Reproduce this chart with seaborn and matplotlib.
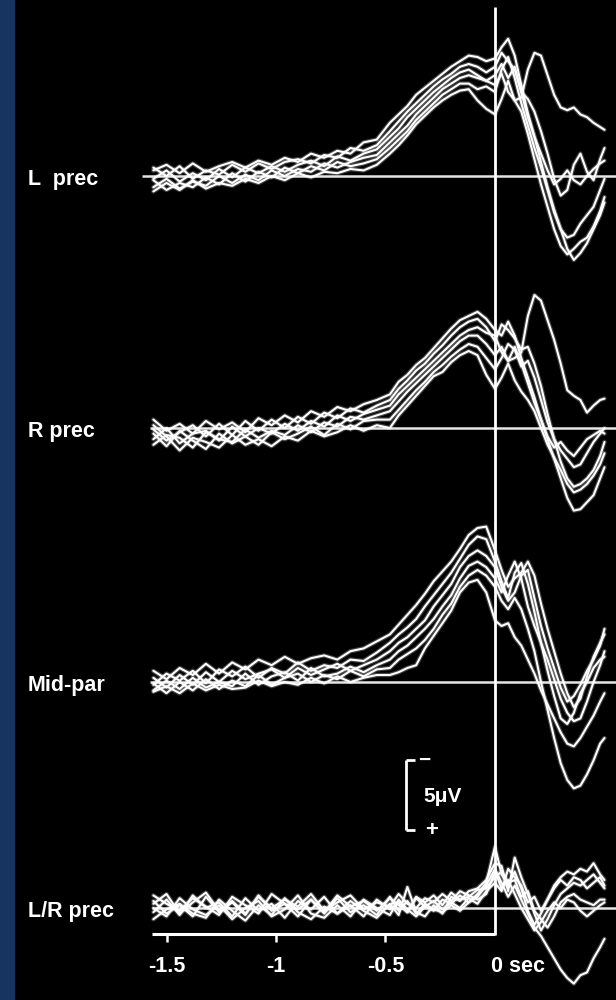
import numpy as np
import pandas as pd
import matplotlib
matplotlib.use('Agg')
import matplotlib.pyplot as plt
import seaborn as sns

# time axis (s, 0 = movement onset)
T = [-1.56, -1.50, -1.44, -1.38, -1.32, -1.26, -1.20, -1.14, -1.08, -1.02, -0.96, -0.90,
     -0.84, -0.78, -0.72, -0.66, -0.60, -0.54, -0.48, -0.44, -0.40, -0.36, -0.32, -0.28,
     -0.24, -0.20, -0.16, -0.12, -0.08, -0.04, 0.00, 0.03, 0.06, 0.09, 0.12, 0.15,
     0.18, 0.21, 0.24, 0.27, 0.30, 0.33, 0.36, 0.39, 0.42, 0.45, 0.48, 0.50]

# amplitudes in uV, negative = up (EEG convention)
L1 = [-0.4, -0.8, -0.2, -0.9, -0.3, -0.7, -1.0, -0.6, -1.1, -0.8, -1.3, -1.0, -1.6, -1.3, -1.8, -1.6, -2.4, -2.6,
      -3.8, -4.4, -5.0, -5.8, -6.3, -6.8, -7.3, -7.8, -8.2, -8.6, -8.5, -8.2,
      -8.4, -9.2, -9.8, -8.6, -6.5, -4.5, -2.8, -1.0, 0.8, 2.4, 3.8, 5.2, 6.0, 5.5, 4.8, 3.8, 2.8, 1.9]
L2 = [0.2, -0.4, 0.4, -0.2, 0.3, -0.5, 0.1, -0.6, -0.2, -0.7, -0.3, -0.8, -1.1, -0.7, -1.4, -1.1, -1.6, -1.9,
      -2.8, -3.4, -4.2, -4.8, -5.4, -6.0, -6.5, -7.0, -7.4, -7.6, -7.2, -6.8,
      -6.5, -7.3, -6.0, -5.4, -5.6, -7.6, -8.8, -8.6, -7.2, -5.8, -4.9, -4.7, -4.9, -4.4, -4.2, -3.8, -3.5, -3.3]
L3 = [1.1, 0.5, 1.0, 0.3, 0.9, 0.5, 0.7, 0.2, 0.5, 0.0, 0.3, -0.2, 0.1, -0.3, -0.2, -0.5, -0.4, -0.8,
      -1.6, -2.2, -2.9, -3.7, -4.3, -4.9, -5.4, -5.8, -6.1, -6.2, -5.4, -4.8,
      -4.4, -5.5, -6.8, -5.4, -4.6, -3.0, -1.2, 0.6, 2.2, 3.8, 5.0, 5.6, 5.2, 4.7, 4.4, 3.6, 2.5, 1.5]
L4 = [-0.6, 0.0, -0.7, 0.2, -0.4, -0.1, -0.8, -0.3, -0.9, -0.5, -1.0, -1.2, -0.9, -1.5, -1.3, -2.0, -1.8, -2.2,
      -3.2, -3.9, -4.6, -5.2, -5.8, -6.4, -6.9, -7.3, -7.8, -8.0, -7.8, -7.4,
      -7.8, -8.8, -8.2, -7.6, -6.0, -5.5, -4.6, -3.2, -1.6, 0.2, 1.4, 1.0, -0.8, -1.6, -0.3, 0.3, -1.2, -2.0]
L5 = [0.8, 0.2, 0.9, 0.4, 0.7, 0.0, 0.5, -0.1, 0.3, -0.4, 0.0, -0.5, -0.3, -0.9, -0.6, -1.0, -1.3, -1.5,
      -2.4, -3.0, -3.6, -4.4, -5.0, -5.6, -6.2, -6.6, -7.0, -7.2, -7.0, -6.8,
      -7.2, -8.0, -7.0, -7.8, -6.0, -4.2, -2.8, -1.6, -0.4, 0.6, 0.2, -0.4, 0.3, 0.6, 0.0, -0.5, -0.9, -1.1]
L6 = [0.3, 1.0, 0.5, 0.8, 0.1, 0.6, -0.2, 0.4, -0.3, 0.1, -0.6, -0.2, -0.7, -0.4, -1.0, -0.7, -0.9, -1.2,
      -2.0, -2.6, -3.2, -4.0, -4.6, -5.2, -5.8, -6.2, -6.6, -6.6, -6.2, -6.4,
      -6.0, -7.6, -8.5, -7.0, -5.2, -3.6, -2.0, -0.6, 1.0, 2.6, 3.8, 4.4, 4.2, 3.4, 2.8, 2.2, 1.0, 0.2]

R1 = [-0.6, 0.2, -0.3, 0.4, -0.5, 0.1, -0.4, 0.3, -0.7, -0.2, -0.9, -0.4, -1.2, -0.8, -1.5, -1.2, -1.7, -2.0,
      -2.4, -3.3, -3.8, -4.5, -5.0, -5.7, -6.4, -7.1, -7.7, -8.0, -8.3, -7.8,
      -7.0, -6.6, -7.6, -6.6, -5.0, -3.6, -2.2, -0.6, 0.8, 2.2, 3.6, 5.0, 5.9, 5.8, 5.3, 4.8, 3.6, 2.8]
R2 = [1.2, 0.5, 0.7, 1.4, 0.3, 0.8, 1.0, 0.1, 0.7, 0.2, 0.5, -0.2, 0.3, -0.4, -0.1, -0.8, -0.6, -0.9,
      -1.2, -1.9, -2.6, -3.2, -3.8, -4.4, -5.0, -5.6, -6.2, -6.6, -6.6, -6.0,
      -5.2, -5.8, -4.8, -5.0, -5.4, -8.0, -9.5, -9.1, -7.7, -6.3, -4.6, -2.7, -2.3, -2.0, -1.1, -1.6, -2.0, -2.1]
R3 = [0.1, 0.9, 0.3, -0.2, 0.6, -0.3, 0.5, -0.5, 0.2, -0.6, 0.0, -0.8, -0.3, -1.1, -0.7, -1.4, -1.1, -1.6,
      -2.0, -2.8, -3.4, -4.1, -4.6, -5.3, -5.9, -6.6, -7.2, -7.6, -7.8, -7.2,
      -6.2, -7.4, -7.0, -6.4, -5.6, -5.8, -4.6, -3.0, -1.0, 0.8, 2.4, 3.6, 4.2, 4.0, 3.6, 3.0, 2.0, 1.0]
R4 = [0.4, 1.3, 0.2, 0.9, 1.5, 0.4, 1.1, 0.6, 1.2, 0.3, 0.8, 0.4, -0.1, 0.5, -0.3, 0.1, -0.5, -0.6,
      -0.6, -1.3, -2.0, -2.7, -3.3, -4.0, -4.5, -5.1, -5.6, -6.0, -5.8, -5.0,
      -4.2, -5.0, -6.0, -5.6, -4.4, -4.8, -3.6, -2.0, -0.4, 0.8, 1.6, 2.2, 2.8, 2.6, 1.8, 1.0, 0.4, 0.0]
R5 = [-0.2, 0.6, 1.6, 0.7, 1.0, 1.4, 0.5, 1.2, 0.8, 1.3, 0.6, 0.9, 0.2, 0.6, 0.3, -0.2, 0.2, -0.2,
      0.0, -0.9, -1.6, -2.3, -3.0, -3.7, -4.0, -4.7, -5.2, -5.5, -5.2, -3.8,
      -2.8, -3.6, -4.6, -3.4, -2.6, -2.0, -1.2, 0.0, 1.2, 2.1, 3.0, 4.0, 4.6, 4.4, 4.0, 3.4, 2.6, 1.8]
R6 = [0.8, 0.0, 1.1, 0.4, 0.2, 0.9, -0.1, 0.6, 0.0, 0.4, -0.3, 0.2, -0.5, -0.1, -0.9, -0.5, -1.0, -1.3,
      -1.6, -2.4, -3.0, -3.6, -4.2, -4.8, -5.4, -6.0, -6.6, -7.0, -7.2, -6.8,
      -6.6, -5.4, -4.8, -5.8, -4.6, -3.2, -1.8, -0.6, 0.6, 1.4, 1.0, 1.6, 2.0, 1.4, 0.8, 0.5, 0.2, 0.4]

M1 = [-0.8, -0.2, -1.0, -0.5, -1.3, -0.6, -1.4, -0.9, -1.6, -1.2, -1.8, -1.3, -1.7, -1.9, -1.6, -2.2, -2.4, -2.9,
      -3.4, -4.1, -4.8, -5.5, -6.3, -7.2, -7.9, -8.6, -9.5, -10.5, -11.0, -11.1,
      -9.4, -8.0, -6.8, -7.4, -7.8, -8.6, -7.6, -5.6, -3.8, -2.2, -0.6, 0.8, 1.8, 1.2, -0.4, -1.8, -2.8, -3.4]
M2 = [0.2, -0.6, -0.1, -0.8, 0.1, -0.9, -0.4, -1.1, -0.3, -1.0, -0.6, -1.4, -0.8, -1.2, -1.0, -1.6, -1.5, -2.1,
      -2.8, -3.4, -3.9, -4.5, -5.4, -6.2, -7.0, -7.8, -8.8, -9.8, -10.4, -10.2,
      -8.6, -7.2, -6.0, -7.8, -8.5, -7.0, -5.0, -2.8, -0.8, 1.0, 2.6, 3.0, 2.2, 0.8, 0.0, -1.0, -1.6, -1.8]
M3 = [0.7, 0.3, 0.8, 0.1, 0.6, 0.2, 0.5, 0.4, -0.1, 0.3, 0.0, 0.2, -0.3, 0.1, -0.4, 0.0, -0.3, -0.5,
      -0.5, -0.7, -1.0, -1.2, -2.4, -3.3, -4.2, -5.1, -6.4, -7.1, -7.3, -6.4,
      -4.4, -4.0, -4.2, -3.2, -2.6, -1.6, -0.6, 0.6, 1.6, 2.6, 3.6, 4.4, 4.6, 4.0, 3.2, 2.4, 1.4, 0.8]
M4 = [0.1, 0.8, 0.0, 0.6, -0.2, 0.5, -0.1, 0.3, -0.5, 0.2, -0.3, -0.6, 0.0, -0.5, -0.2, -0.8, -0.4, -0.9,
      -1.0, -1.6, -2.0, -2.4, -3.0, -3.8, -4.8, -5.6, -6.8, -7.6, -8.0, -7.6,
      -6.8, -5.8, -5.2, -6.0, -5.2, -3.8, -2.2, 0.0, 2.0, 4.0, 5.8, 7.0, 7.6, 7.4, 6.6, 5.6, 4.4, 4.0]
M5 = [0.6, -0.1, 0.5, -0.3, 0.4, 0.0, 0.3, -0.6, 0.2, -0.4, -0.7, -0.1, -1.0, -0.4, -0.6, -1.1, -0.7, -1.2,
      -1.6, -2.2, -2.6, -3.2, -3.8, -4.5, -5.4, -6.2, -7.4, -8.3, -8.6, -8.2,
      -7.4, -6.4, -7.6, -8.6, -7.4, -5.4, -4.0, -2.8, -1.6, -0.2, 1.2, 2.2, 2.8, 2.6, 1.4, 0.0, -1.2, -2.2]
M6 = [-0.3, 0.4, -0.5, 0.2, -0.7, 0.0, -0.8, -0.2, -0.6, -0.9, -0.3, -1.0, -0.5, -0.9, -1.3, -0.8, -1.2, -1.6,
      -2.2, -2.8, -3.2, -3.8, -4.4, -5.4, -6.2, -7.0, -8.2, -9.0, -9.4, -9.0,
      -8.2, -6.8, -5.8, -6.4, -7.6, -8.0, -6.0, -4.0, -2.4, -1.0, 0.4, 1.4, 1.0, 0.2, -0.8, -1.6, -2.6, -3.8]

LR1 = [0.3, -0.6, 0.5, -0.9, 0.0, -0.4, 0.6, -0.7, 0.2, -0.3, 0.7, -0.5, 0.1, -0.8, 0.4, -0.2, 0.6, -0.6,
       0.1, -0.4, 0.3, -0.7, -0.1, 0.2, -0.6, -0.3, -0.9, -0.4, -1.0, -1.8,
       -4.4, -2.4, -1.6, -2.6, -1.4, 0.2, 1.2, 0.4, -0.6, -1.6, -2.2, -2.6, -2.4, -2.8, -2.6, -3.2, -2.4, -2.0]
LR2 = [-0.5, 0.4, -0.2, 0.6, -0.8, 0.3, -0.4, 0.5, -0.9, 0.2, -0.3, 0.6, -0.6, 0.4, -0.7, 0.3, -0.2, 0.5,
       -0.8, 0.2, -0.5, 0.4, -0.3, 0.1, 0.3, -0.2, 0.2, -0.4, -0.8, -1.6,
       -2.8, -1.8, -0.8, -1.6, -0.6, 0.4, 1.4, 2.0, 2.8, 3.6, 4.4, 5.0, 5.4, 4.8, 4.6, 3.6, 2.8, 2.2]
LR3 = [0.8, 0.1, -0.3, 0.4, 0.7, -0.6, 0.2, 0.9, -0.2, 0.5, -0.7, 0.3, 0.8, -0.1, 0.4, -0.5, 0.2, 0.7,
       -0.3, 0.5, -1.5, 0.3, 0.6, -0.2, 0.4, -0.8, -0.5, -1.2, -1.4, -2.0,
       -3.2, -3.0, -1.2, -3.6, -2.2, -1.0, 0.4, 1.6, 0.8, -0.2, -1.0, -1.4, -1.8, -1.6, -2.0, -2.4, -1.8, -1.4]
LR4 = [-0.9, -0.3, 0.2, -0.7, -0.1, 0.5, -0.8, -0.2, 0.4, -1.0, -0.3, 0.1, -0.6, 0.3, -0.9, -0.1, -0.5, 0.2,
       -0.7, -0.2, 0.3, -0.8, -0.4, -0.9, -0.2, -1.1, -0.6, -0.8, -1.3, -1.4,
       -2.2, -2.6, -1.8, -2.0, -0.8, -1.2, 0.2, 0.8, 1.4, 0.6, -0.4, -0.8, -1.0, -0.6, -0.4, -0.2, -0.6, -0.6]
LR5 = [0.0, 0.6, -0.7, 0.1, 0.5, -0.2, 0.8, 0.0, -0.5, 0.6, 0.1, -0.9, 0.4, 0.7, -0.2, 0.6, -0.6, 0.0,
       0.5, -0.6, 0.1, 0.6, -0.1, -0.5, 0.1, -0.4, 0.0, -0.7, -0.3, -1.2,
       -1.8, -1.2, -2.8, -2.2, -1.6, -0.4, -0.8, 0.2, -0.6, -1.4, -2.0, -1.6, -2.2, -2.0, -1.4, -1.8, -2.2, -1.6]
LR6 = [-0.3, -1.0, 0.4, -0.4, -1.1, 0.2, -0.5, 0.4, -0.8, 0.0, -0.6, -0.1, -1.0, 0.2, -0.4, -0.9, 0.1, -0.4,
       -0.1, -1.0, -0.3, 0.0, -0.7, -0.4, -1.0, -0.5, -1.2, -0.9, -0.6, -1.0,
       -2.6, -1.4, -2.0, -1.0, 0.0, 0.8, 1.6, 1.0, 0.2, -0.4, 0.0, -0.6, -0.4, 0.2, 0.6, 0.2, -0.2, -0.4]

channels = ['L  prec', 'R prec', 'Mid-par', 'L/R prec']
traces = {
    'L  prec': [L1, L2, L3, L4, L5, L6],
    'R prec': [R1, R2, R3, R4, R5, R6],
    'Mid-par': [M1, M2, M3, M4, M5, M6],
    'L/R prec': [LR1, LR2, LR3, LR4, LR5, LR6],
}
xticks = [-1.5, -1, -0.5]
xticklabels = ['-1.5', '-1', '-0.5']

# layout: picture is 616 x 1000 px, 219 px per second, 14 px per uV
PX_S, T0, PX_UV = 219.0, 495.0, 14.0
base_px = {'L  prec': 176, 'R prec': 428, 'Mid-par': 682, 'L/R prec': 908}
line_start_px = {'L  prec': 142, 'R prec': 150, 'Mid-par': 150, 'L/R prec': 152}


def sx(px):
    return (px - T0) / PX_S


def sy(px):
    return px / PX_UV


rows = []
for ch in channels:
    for k, tr in enumerate(traces[ch]):
        assert len(tr) == len(T)
        for t, v in zip(T, tr):
            rows.append({'channel': ch, 'trace': k, 'time': t, 'uv': v,
                         'y': sy(base_px[ch]) + v})
df = pd.DataFrame(rows)

sns.set_style('white')
plt.rcParams['font.family'] = ['Liberation Sans', 'DejaVu Sans']

fig = plt.figure(figsize=(6.16, 10), dpi=100, facecolor='black')
ax = fig.add_axes([0, 0, 1, 1])
ax.set_facecolor('black')

# blue strip on the left edge
ax.axvspan(sx(0), sx(14), color='#17335f', zorder=0)

for ch in channels:
    b = sy(base_px[ch])
    ax.hlines(b, sx(line_start_px[ch]), sx(616), color='white', lw=1.8, alpha=0.9)
    sub = df[df['channel'] == ch]
    # soft halo, then the trace itself (scanned-print look)
    sns.lineplot(data=sub, x='time', y='y', units='trace', estimator=None,
                 color='white', lw=3.2, alpha=0.25, ax=ax, legend=False)
    sns.lineplot(data=sub, x='time', y='y', units='trace', estimator=None,
                 color='white', lw=1.5, ax=ax, legend=False)
    fig.text(28 / 616, 1 - (base_px[ch] + 3) / 1000, ch, color='white',
             fontsize=15.5, fontweight='bold', ha='left', va='center')

ax.set_xlim(sx(0), sx(616))
ax.set_ylim(sy(1000), sy(0))
ax.axis('off')

# onset line and time axis
ax.vlines(0, sy(7), sy(935), color='white', lw=2.0)
ax.hlines(sy(934), sx(152), 0, color='white', lw=2.2)
ax.vlines(xticks, sy(934), sy(942), color='white', lw=1.8)
for t, lab in zip(xticks, xticklabels):
    ax.text(t, sy(967), lab, color='white', fontsize=15.5, fontweight='bold',
            ha='center', va='center')
ax.text(sx(491), sy(967), '0 sec', color='white', fontsize=15.5, fontweight='bold',
        ha='left', va='center')

# 5 uV calibration bracket (negative up)
cal_top = sy(760)
ax.vlines(sx(406), cal_top, cal_top + 5, color='white', lw=2.0)
ax.hlines([cal_top, cal_top + 5], sx(406), sx(415), color='white', lw=2.0)
ax.text(sx(424), cal_top, '\u2212', color='white', fontsize=15, fontweight='bold',
        ha='center', va='center')
ax.text(sx(423), cal_top + 2.6, '5\u03bcV', color='white', fontsize=15,
        fontweight='bold', ha='left', va='center')
ax.text(sx(432), cal_top + 5, '+', color='white', fontsize=16, fontweight='bold',
        ha='center', va='center')

fig.savefig('out.png', dpi=100, facecolor='black')
